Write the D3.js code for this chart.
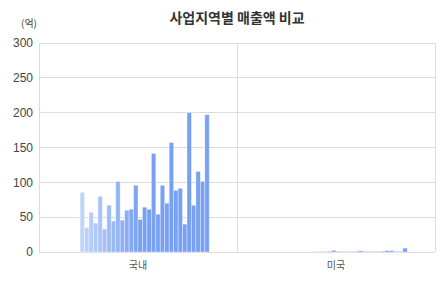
<!DOCTYPE html>
<html>
<head>
<meta charset="utf-8">
<script src="https://cdn.jsdelivr.net/npm/d3@7"></script>
<style>
  body { margin: 0; background: #fff; font-family: "Noto Sans CJK KR", "Noto Sans", sans-serif; }
</style>
</head>
<body>
<svg id="chart"></svg>
<script>
var width = 446, height = 305;
var margin = {top: 43, right: 11, bottom: 53, left: 39};

// categories (사업지역)
var regions = ["국내", "미국"];
// 32 periods per region
var periods = d3.range(1, 33);
// 매출액 (억) per period
var domestic = [0, 0, 0, 85.7, 34.8, 57.1, 41.4, 80, 32.9, 67.1, 44.3, 101.4, 45.7, 60, 61.4, 95.7,
                46.7, 64.3, 61.4, 141.4, 54.3, 95.7, 70, 157.1, 88.6, 91.4, 40, 200, 67.1, 115.7, 101.4, 197.1];
var usa = [0, 0, 0, 0, 0, 0, 0, 0, 0, 0, 0.3, 0.4, 0.5, 0.6, 1.2, 2.4, 1.0, 0.7, 0.6, 0.7, 0.8, 1.8,
           0.9, 0.7, 0.8, 0.7, 1.3, 2.0, 2.0, 0.9, 0.8, 5.6];
var yTicks = [0, 50, 100, 150, 200, 250, 300];

var valuesByRegion = {"국내": domestic, "미국": usa};

var svg = d3.select("#chart").attr("width", width).attr("height", height);

var x0 = d3.scaleBand().domain(regions)
    .range([margin.left, width - margin.right])
    .paddingInner(0.28).paddingOuter(0.14);
var x1 = d3.scaleBand().domain(periods).range([0, x0.bandwidth()]);
var y = d3.scaleLinear().domain([0, 300]).range([height - margin.bottom, margin.top]);

// colour ramps from light to full blue over the first half of periods
var color = d3.scaleLinear().domain([1, 17]).range(["#d2e0fb", "#78a0f3"])
    .interpolate(d3.interpolateRgb).clamp(true);

// horizontal grid
svg.append("g")
  .selectAll("line")
  .data(yTicks)
  .enter().append("line")
    .attr("x1", margin.left).attr("x2", width - margin.right)
    .attr("y1", function(d) { return y(d); }).attr("y2", function(d) { return y(d); })
    .style("stroke", "#dcdcdc").style("stroke-width", 1)
    .attr("shape-rendering", "crispEdges");

// vertical separators between regions
var bounds = [margin.left, width - margin.right, (x0("국내") + x0.bandwidth() + x0("미국")) / 2];
svg.append("g")
  .selectAll("line")
  .data(bounds)
  .enter().append("line")
    .attr("x1", function(d) { return d; }).attr("x2", function(d) { return d; })
    .attr("y1", y(300)).attr("y2", y(0))
    .style("stroke", "#dcdcdc").style("stroke-width", 1)
    .attr("shape-rendering", "crispEdges");

// y labels
svg.append("g")
  .selectAll("text")
  .data(yTicks)
  .enter().append("text")
    .attr("x", 33)
    .attr("y", function(d) { return y(d); })
    .attr("dy", "0.35em")
    .attr("text-anchor", "end")
    .style("font-family", "Liberation Sans, Arial, sans-serif")
    .style("font-size", "12px")
    .style("fill", "#444")
    .text(function(d) { return d; });

svg.append("text")
  .attr("x", 29).attr("y", 27)
  .attr("text-anchor", "middle")
  .style("font-size", "10px")
  .style("fill", "#444")
  .text("(억)");

// bars
regions.forEach(function(r) {
  var g = svg.append("g").attr("transform", "translate(" + x0(r) + ",0)");
  g.selectAll("rect")
    .data(valuesByRegion[r].map(function(v, i) { return {period: periods[i], value: v}; }))
    .enter().append("rect")
      .attr("x", function(d) { return x1(d.period); })
      .attr("width", x1.bandwidth())
      .attr("y", function(d) { return y(d.value); })
      .attr("height", function(d) { return y(0) - y(d.value); })
      .style("fill", function(d) { return color(d.period); })
      .style("stroke", "rgba(255,255,255,0.45)")
      .style("stroke-width", 0.8);
});

// category labels
svg.append("g")
  .selectAll("text")
  .data(regions)
  .enter().append("text")
    .attr("x", function(d) { return x0(d) + x0.bandwidth() / 2; })
    .attr("y", y(0) + 17)
    .attr("text-anchor", "middle")
    .style("font-size", "10px")
    .style("fill", "#555")
    .text(function(d) { return d; });

// title
svg.append("text")
  .attr("x", (margin.left + width - margin.right) / 2)
  .attr("y", 23)
  .attr("text-anchor", "middle")
  .style("font-size", "14px")
  .style("font-weight", "bold")
  .style("fill", "#333")
  .text("사업지역별 매출액 비교");
</script>
</body>
</html>
